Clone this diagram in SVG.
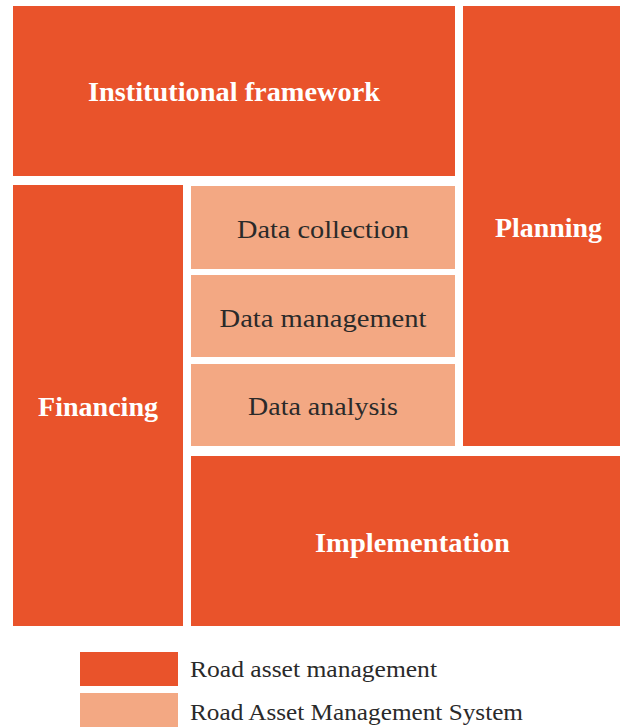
<svg xmlns="http://www.w3.org/2000/svg" width="620" height="728" viewBox="0 0 620 728">
<style>
.dark{fill:#E9532B}
.light{fill:#F3A883}
.lb{font-family:"Liberation Serif","DejaVu Serif",serif;font-weight:bold;font-size:27px;fill:#ffffff;text-anchor:middle}
.ls{font-family:"Liberation Serif","DejaVu Serif",serif;font-size:25px;fill:#2a2a2a;text-anchor:middle}
.lg{font-family:"Liberation Serif","DejaVu Serif",serif;font-size:23px;fill:#2a2a2a}
</style>
<rect width="620" height="728" fill="#ffffff"/>
<g id="institutional">
<rect class="dark" x="13" y="6" width="442" height="170"/>
<text class="lb" x="234" y="101" textLength="292" lengthAdjust="spacingAndGlyphs">Institutional framework</text>
</g>
<g id="planning">
<rect class="dark" x="463" y="6" width="170" height="440"/>
<text class="lb" x="548.5" y="237" textLength="107" lengthAdjust="spacingAndGlyphs">Planning</text>
</g>
<g id="financing">
<rect class="dark" x="13" y="185" width="170" height="441"/>
<text class="lb" x="98" y="416" textLength="120" lengthAdjust="spacingAndGlyphs">Financing</text>
</g>
<g id="data-collection">
<rect class="light" x="191" y="186" width="264" height="83"/>
<text class="ls" x="323" y="238" textLength="172" lengthAdjust="spacingAndGlyphs">Data collection</text>
</g>
<g id="data-management">
<rect class="light" x="191" y="275" width="264" height="82"/>
<text class="ls" x="323" y="327" textLength="207" lengthAdjust="spacingAndGlyphs">Data management</text>
</g>
<g id="data-analysis">
<rect class="light" x="191" y="364" width="264" height="82"/>
<text class="ls" x="323" y="415" textLength="150" lengthAdjust="spacingAndGlyphs">Data analysis</text>
</g>
<g id="implementation">
<rect class="dark" x="191" y="456" width="442" height="170"/>
<text class="lb" x="412.5" y="552" textLength="195" lengthAdjust="spacingAndGlyphs">Implementation</text>
</g>
<g id="legend">
<rect class="dark" x="80" y="652" width="98" height="34"/>
<text class="lg" x="190" y="677" textLength="247" lengthAdjust="spacingAndGlyphs">Road asset management</text>
<rect class="light" x="80" y="693" width="98" height="34"/>
<text class="lg" x="190" y="720" textLength="333" lengthAdjust="spacingAndGlyphs">Road Asset Management System</text>
</g>
<g id="connectors"></g>
</svg>
